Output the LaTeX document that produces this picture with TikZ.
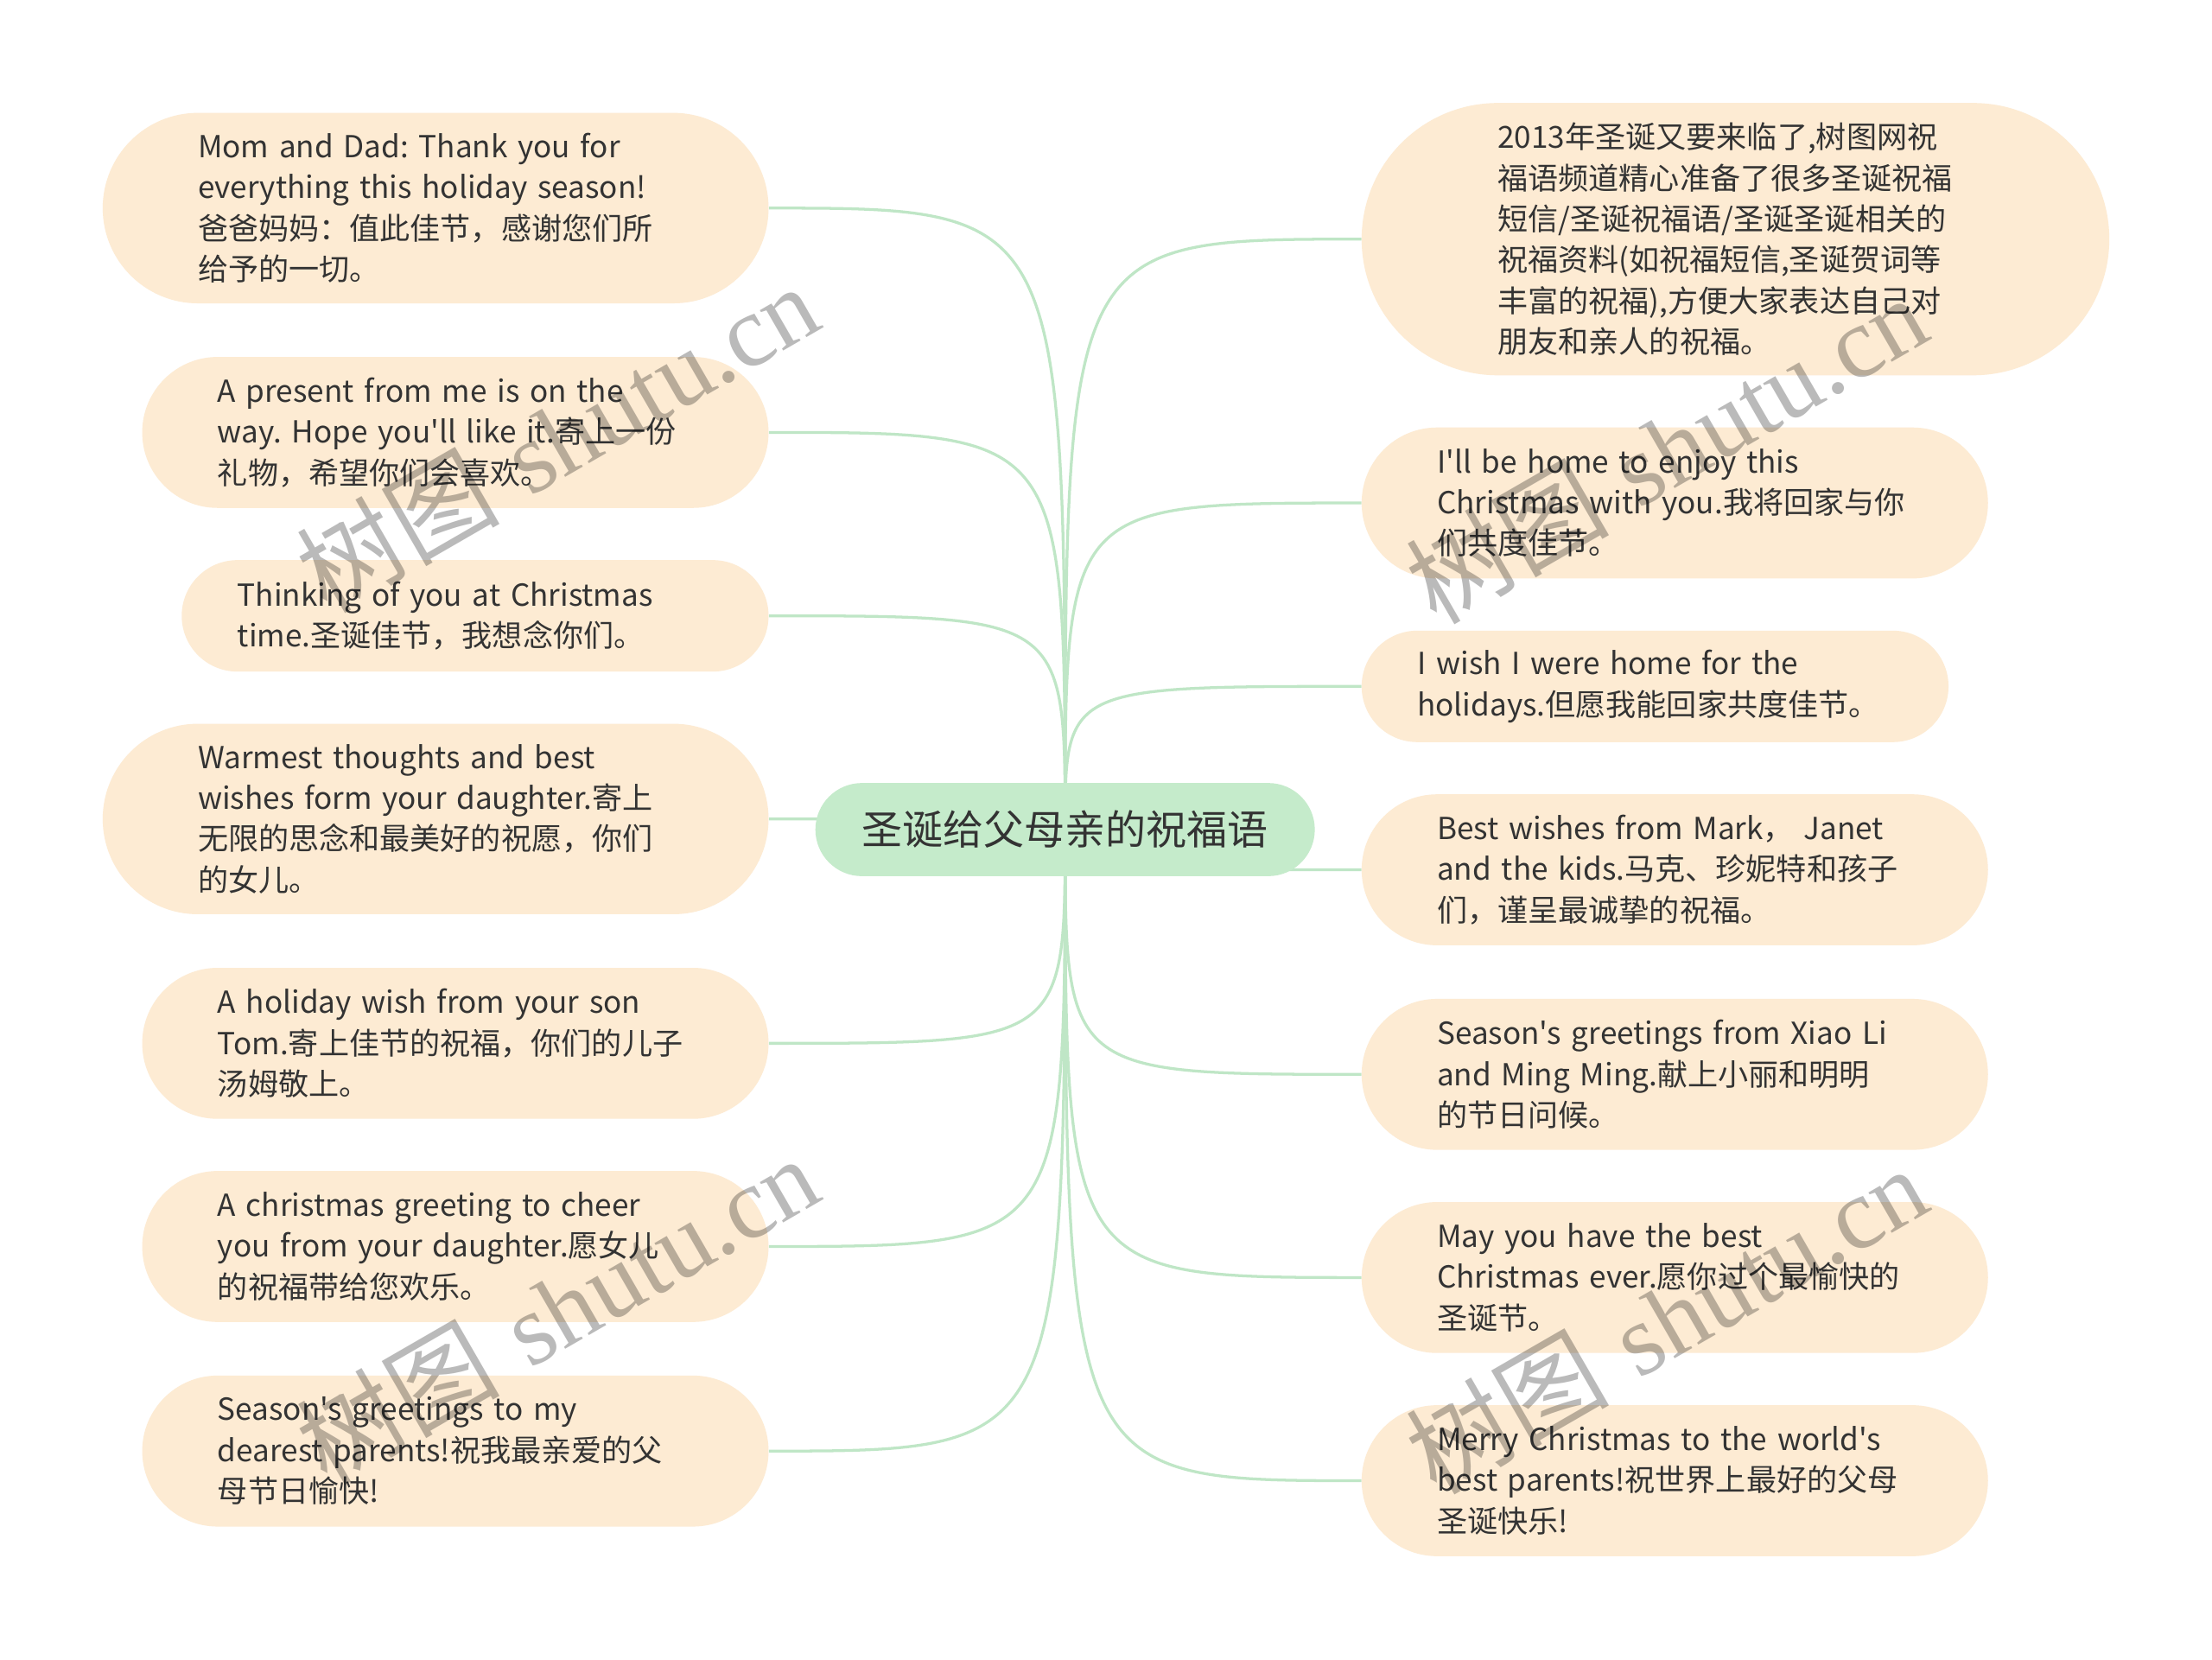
\documentclass[tikz,border=0pt]{standalone}
\usepackage{fontspec}
\newfontfamily\cjk{Noto Sans CJK SC}
\newfontfamily\wmserif{Liberation Serif}
\usetikzlibrary{backgrounds}
\definecolor{leaffill}{HTML}{FDEBD3}
\definecolor{rootfill}{HTML}{C5EBCB}
\definecolor{branch}{HTML}{BFE6C6}
\definecolor{ink}{HTML}{333333}
\frenchspacing

\begin{document}
\begin{tikzpicture}[x=1pt,y=-1pt,
 leaf/.style={fill=leaffill,text width=337pt,align=left,text=ink,inner ysep=0pt,
   minimum height=#1,inner xsep=#1/2,rounded corners=#1/2,font=\cjk\fontsize{21.5}{29}\selectfont\frenchspacing},
 root/.style={fill=rootfill,inner sep=0pt,text=ink,font=\cjk\fontsize{28.8}{34}\selectfont,minimum width=354,minimum height=66,rounded corners=33},
 link/.style={draw=branch,line width=2pt},
 wm/.style={text=black,text opacity=0.27,rotate=30,inner sep=0pt,font=\fontsize{72}{72}\selectfont}]
\useasboundingbox (0,0) rectangle (1568,1176);
\node[root] (root) at (755,588) {圣诞给父母亲的祝福语};
% left side
\node[leaf=135,anchor=east] (mom) at (545,147.5) {Mom and Dad: Thank you for\\everything this holiday season!\\爸爸妈妈：值此佳节，感谢您们所\\给予的一切。};
\node[leaf=107,anchor=east] (gift) at (545,306.5) {A present from me is on the\\way. Hope you'll like it.寄上一份\\礼物，希望你们会喜欢。};
\node[leaf=79,anchor=east] (think) at (545,436.5) {Thinking of you at Christmas\\time.圣诞佳节，我想念你们。};
\node[leaf=135,anchor=east] (warm) at (545,580.5) {Warmest thoughts and best\\wishes form your daughter.寄上\\无限的思念和最美好的祝愿，你们\\的女儿。};
\node[leaf=107,anchor=east] (son) at (545,739.5) {A holiday wish from your son\\Tom.寄上佳节的祝福，你们的儿子\\汤姆敬上。};
\node[leaf=107,anchor=east] (cheer) at (545,883.5) {A christmas greeting to cheer\\you from your daughter.愿女儿\\的祝福带给您欢乐。};
\node[leaf=107,anchor=east] (dear) at (545,1028.5) {Season's greetings to my\\dearest parents!祝我最亲爱的父\\母节日愉快!};
% right side
\node[leaf=193,anchor=west] (intro) at (965,169.5) {2013年圣诞又要来临了,树图网祝\\福语频道精心准备了很多圣诞祝福\\短信/圣诞祝福语/圣诞圣诞相关的\\祝福资料(如祝福短信,圣诞贺词等\\丰富的祝福),方便大家表达自己对\\朋友和亲人的祝福。};
\node[leaf=107,anchor=west] (home) at (965,356.5) {I'll be home to enjoy this\\Christmas with you.我将回家与你\\们共度佳节。};
\node[leaf=79,anchor=west] (wish) at (965,486.5) {I wish I were home for the\\holidays.但愿我能回家共度佳节。};
\node[leaf=107,anchor=west] (mark) at (965,616.5) {Best wishes from Mark，\ Janet\\and the kids.马克、珍妮特和孩子\\们，谨呈最诚挚的祝福。};
\node[leaf=107,anchor=west] (xiao) at (965,761.5) {Season's greetings from Xiao Li\\and Ming Ming.献上小丽和明明\\的节日问候。};
\node[leaf=107,anchor=west] (best) at (965,905.5) {May you have the best\\Christmas ever.愿你过个最愉快的\\圣诞节。};
\node[leaf=107,anchor=west] (merry) at (965,1049.5) {Merry Christmas to the world's\\best parents!祝世界上最好的父母\\圣诞快乐!};
% branches
\begin{scope}[on background layer]
\fill[white] (0,0) rectangle (1568,1176);
\foreach \n in {mom,gift,think,warm,son,cheer,dear}
  \draw[link] (root.center) .. controls (root.center |- \n.east) .. (\n.east);
\foreach \n in {intro,home,wish,mark,xiao,best,merry}
  \draw[link] (root.center) .. controls (root.center |- \n.west) .. (\n.west);
\end{scope}
% watermarks
\node[wm] (wm1) at (395,310) {{\cjk 树图} {\wmserif shutu.cn}};
\node[wm] (wm2) at (1181,318) {{\cjk 树图} {\wmserif shutu.cn}};
\node[wm] (wm3) at (395,928) {{\cjk 树图} {\wmserif shutu.cn}};
\node[wm] (wm4) at (1181,935) {{\cjk 树图} {\wmserif shutu.cn}};
\end{tikzpicture}
\end{document}
